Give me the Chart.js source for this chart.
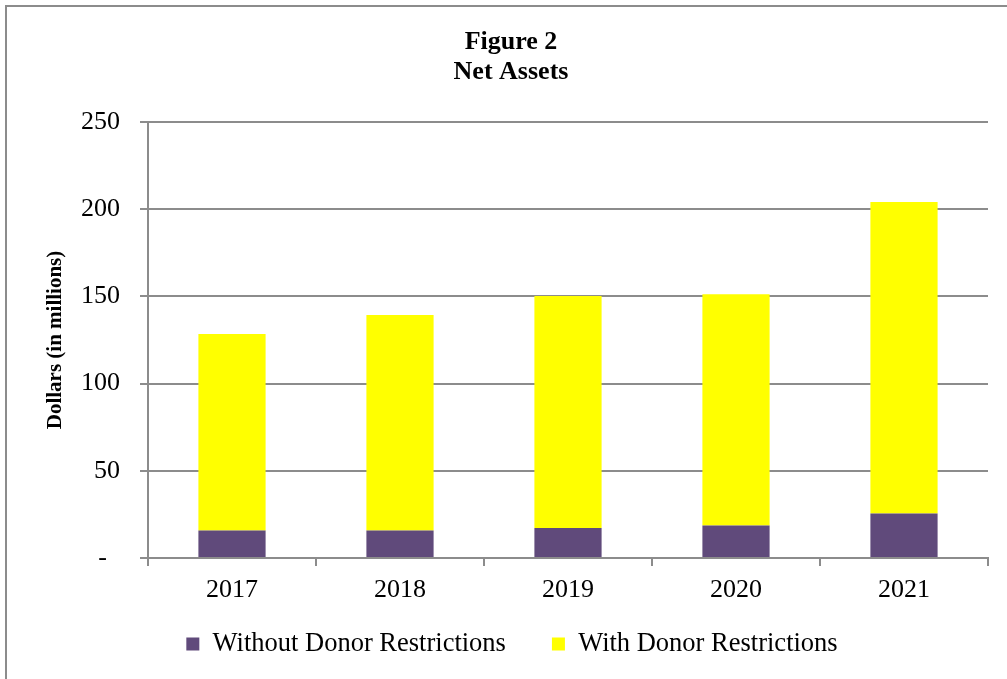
<!DOCTYPE html>
<html lang="en">

<head>
    <meta charset="UTF-8">
    <title>Figure 2 - Net Assets</title>
    <script src="https://cdn.jsdelivr.net/npm/chart.js"></script>
    <style>
        html, body { margin: 0; padding: 0; background: #fff; overflow: hidden; }
        #wrap { position: relative; width: 1007px; height: 679px; }
    </style>
</head>

<body>
    <div id="wrap"><canvas id="netAssetsChart"></canvas></div>
    <script>
        // values (dollars in millions)
        const years = ['2017', '2018', '2019', '2020', '2021'];
        const withoutDonor = [15.7, 15.7, 17.2, 18.7, 25.5];
        const withDonor = [112.7, 123.6, 133.0, 132.5, 178.6];
        const yTicks = [0, 50, 100, 150, 200, 250];

        const serif = 'Liberation Serif, Times New Roman, serif';
        const gridGray = '#8c8c8c';

        const framePlugin = {
            id: 'frame',
            afterLayout(chart) {
                // x axis is squeezed so the legend sits close; give the labels room again
                const x = chart.scales.x;
                x.bottom = x.top + 55;
                // title and legend are centred on the outer frame, a bit right of the canvas centre
                chart.titleBlock.left += 17;
                chart.titleBlock.right += 17;
                chart.legend.left += 18;
                chart.legend.right += 18;
            },
            beforeDraw(chart) {
                // gray frame around the whole figure
                const ctx = chart.ctx;
                ctx.save();
                ctx.fillStyle = '#fff';
                ctx.fillRect(0, 0, chart.width, chart.height);
                ctx.strokeStyle = '#8c8c8c';
                ctx.lineWidth = 2;
                ctx.strokeRect(6, 6, chart.width + 20, chart.height + 20);
                ctx.restore();
            }
        };

        const ctx = document.getElementById('netAssetsChart').getContext('2d');

        new Chart(ctx, {
            type: 'bar',
            data: {
                labels: years,
                datasets: [
                    {
                        label: 'Without Donor Restrictions',
                        data: withoutDonor,
                        backgroundColor: '#604a7b',
                        barPercentage: 0.8,
                        categoryPercentage: 0.5
                    },
                    {
                        label: 'With Donor Restrictions',
                        data: withDonor,
                        backgroundColor: '#ffff00',
                        barPercentage: 0.8,
                        categoryPercentage: 0.5
                    }
                ]
            },
            options: {
                responsive: true,
                maintainAspectRatio: false,
                animation: false,
                layout: {
                    padding: { top: 27, right: 19, bottom: 11.75, left: 0 }
                },
                plugins: {
                    title: {
                        display: true,
                        text: ['Figure 2', 'Net Assets'],
                        color: '#000',
                        font: { family: serif, size: 26, weight: 'bold', lineHeight: 1.154 },
                        padding: { top: 0, bottom: 35 }
                    },
                    legend: {
                        position: 'bottom',
                        labels: {
                            color: '#000',
                            font: { family: serif, size: 26.5 },
                            boxWidth: 13,
                            boxHeight: 13,
                            padding: 46
                        }
                    },
                    tooltip: { enabled: false }
                },
                scales: {
                    x: {
                        stacked: true,
                        afterFit(scale) {
                            scale.height = 26.75;
                        },
                        grid: {
                            offset: true,
                            drawOnChartArea: false,
                            color: gridGray,
                            lineWidth: 2,
                            tickLength: 8
                        },
                        border: { color: gridGray, width: 2 },
                        ticks: {
                            color: '#000',
                            font: { family: serif, size: 26 },
                            padding: 9
                        }
                    },
                    y: {
                        stacked: true,
                        min: 0,
                        max: 250,
                        afterBuildTicks(scale) {
                            scale.ticks = yTicks.map(v => ({ value: v }));
                        },
                        afterFit(scale) {
                            scale.width = 148;
                        },
                        grid: {
                            color: gridGray,
                            lineWidth: 2,
                            tickLength: 8
                        },
                        border: { color: gridGray, width: 2 },
                        ticks: {
                            color: '#000',
                            font: { family: serif, size: 26 },
                            padding: 20,
                            callback: v => v === 0 ? '-\u00a0\u00a0' : v
                        },
                        title: {
                            display: true,
                            text: 'Dollars (in millions)',
                            color: '#000',
                            font: { family: serif, size: 21, weight: 'bold' },
                            padding: { top: 43, bottom: 0 }
                        }
                    }
                }
            },
            plugins: [framePlugin]
        });
    </script>
</body>

</html>
